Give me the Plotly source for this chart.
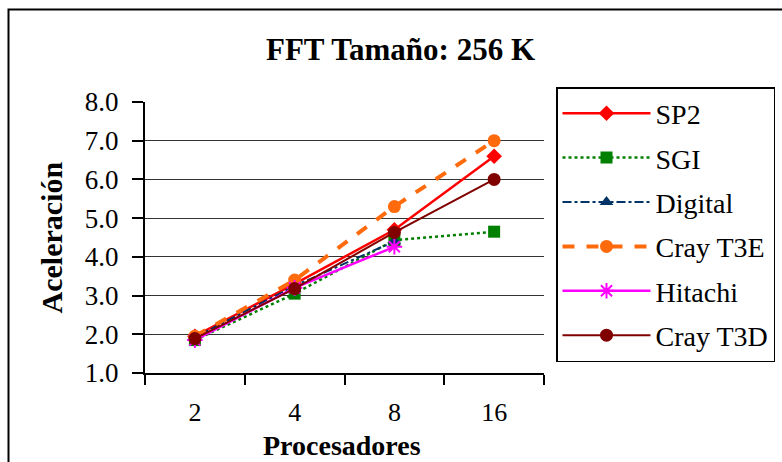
import plotly.graph_objects as go

# Speed-up of a 256 K FFT by number of processors
procesadores = ["2", "4", "8", "16"]

sp2 = [1.95, 3.30, 4.70, 6.60]
sgi = [1.85, 3.05, 4.43, 4.65]
digital = [1.92, 3.25, 4.40]
cray_t3e = [1.95, 3.40, 5.30, 7.00]
hitachi = [1.85, 3.20, 4.26]
cray_t3d = [1.89, 3.18, 4.63, 6.00]

series = [
    ("SP2", sp2, "#FF0000", "solid", 2.5, "diamond", 12),
    ("SGI", sgi, "#008000", "dot", 2.5, "square", 12),
    ("Digital", digital, "#003366", "dashdot", 2, "triangle-up", 12),
    ("Cray T3E", cray_t3e, "#FF6A0D", "dash", 4, "circle", 13),
    ("Hitachi", hitachi, "#FF00FF", "solid", 2.5, "asterisk-open", 13),
    ("Cray T3D", cray_t3d, "#800000", "solid", 2, "circle", 13),
]

SERIF = "Liberation Serif, Times New Roman, serif"

fig = go.Figure()
for name, vals, color, dash, lw, sym, ms in series:
    fig.add_trace(go.Scatter(
        x=procesadores[:len(vals)], y=vals, name=name, mode="lines+markers",
        legendgroup=name,
        line=dict(color=color, width=lw, dash=dash),
        marker=dict(symbol=sym, size=ms, color=color,
                    line=dict(color=color, width=2 if sym == "asterisk-open" else 0)),
    ))

L, R, T, B = 145, 544, 102, 373
W, H = 782, 462

fig.update_layout(
    width=W, height=H, autosize=False,
    margin=dict(l=L, r=W - R, t=T, b=H - B, pad=0, autoexpand=False),
    paper_bgcolor="white", plot_bgcolor="white",
    font=dict(family=SERIF, size=27, color="black"),
    title=dict(text="<b>FFT Tamaño: 256 K</b>", x=400.5 / W, xanchor="center",
               y=1 - 49 / H, yanchor="middle",
               font=dict(family=SERIF, size=31, color="black")),
    showlegend=True,
    legend=dict(x=(556 - L) / (R - L), y=(B - 87) / (B - T), xanchor="left", yanchor="top",
                bordercolor="black", borderwidth=1.5, bgcolor="white",
                font=dict(family=SERIF, size=28, color="black"),
                tracegroupgap=5, itemwidth=88, maxheight=320),
)

fig.update_xaxes(
    type="category", categoryorder="array", categoryarray=procesadores,
    range=[-0.5, 3.5], showgrid=False, zeroline=False,
    showline=True, linecolor="black", linewidth=2,
    ticks="outside", tickson="boundaries", ticklen=10, tickwidth=1.5, tickcolor="black",
    ticklabelstandoff=15,
    tickfont=dict(family=SERIF, size=26, color="black"),
)
fig.update_yaxes(
    range=[1.0, 8.0], dtick=1.0, tick0=1.0, tickformat=".1f",
    showgrid=True, gridcolor="#333333", gridwidth=1, zeroline=False,
    showline=True, linecolor="black", linewidth=2,
    ticks="outside", ticklen=11, tickwidth=1.5, tickcolor="black",
    ticklabelstandoff=8,
    tickfont=dict(family=SERIF, size=27, color="black"),
)

# Axis titles
fig.add_annotation(text="<b>Aceleración</b>", textangle=-90, showarrow=False,
                   xref="paper", yref="paper", x=(51 - L) / (R - L), y=0.5,
                   xanchor="center", yanchor="middle",
                   font=dict(family=SERIF, size=30, color="black"))
fig.add_annotation(text="<b>Procesadores</b>", showarrow=False,
                   xref="paper", yref="paper", x=(342 - L) / (R - L), y=(B - 445) / (B - T),
                   xanchor="center", yanchor="middle",
                   font=dict(family=SERIF, size=28, color="black"))

# Chart-area frame (right and bottom edges fall outside the page)
fig.add_shape(type="rect", xref="paper", yref="paper",
              x0=(8.5 - L) / (R - L), x1=(W + 20 - L) / (R - L),
              y0=(B - (H + 20)) / (B - T), y1=(B - 9.5) / (B - T),
              line=dict(color="black", width=2), fillcolor="rgba(0,0,0,0)", layer="below")

fig.write_html("out.html")
